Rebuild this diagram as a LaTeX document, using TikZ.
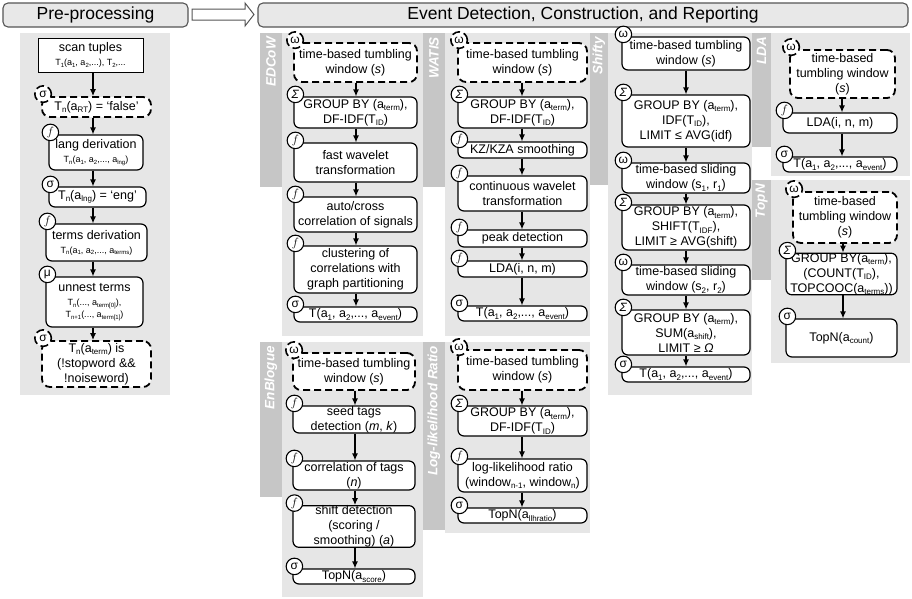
\documentclass[tikz,border=0pt]{standalone}
\usepackage{fontspec}
\setmainfont{Liberation Sans}
\usetikzlibrary{arrows.meta,calc}
\definecolor{panelgray}{HTML}{E6E6E6}
\definecolor{stripgray}{HTML}{C6C6C6}
\definecolor{hdrgray}{HTML}{E8E8E8}
\definecolor{hdrline}{HTML}{555555}
\newcommand\fsN{\fontsize{12.5}{15}\selectfont}
\newcommand\fsS{\fontsize{9}{10.5}\selectfont}
\newcommand\sub[1]{\raisebox{-0.35ex}{\fontsize{8}{8}\selectfont #1}}
\newcommand\ssub[1]{\raisebox{-0.3ex}{\fontsize{6}{6}\selectfont #1}}
\newcommand\mybox[7][box]{\node[#1, minimum width={#5-#3}, minimum height={#6-#4}] (#2) at ({(#3+#5)/2},{(#4+#6)/2}) {#7};}
\newcommand\opc[4][op]{\node[#1] (#2) at ($(#3.north west)+(2,-2)$) {#4};}
\newcommand\arr[3]{\draw[arrline] (#1.south -| #3) -- (#2.north -| #3);}
\tikzset{
  box/.style={draw=black, line width=1.2pt, rounded corners=6pt, fill=white, align=center, inner sep=0pt, font=\fsN},
  sqbox/.style={box, rounded corners=0pt, line width=1pt},
  dbox/.style={box, line width=1.8pt, dash pattern=on 7pt off 4pt, rounded corners=8pt},
  op/.style={circle, draw=black, fill=white, line width=1.1pt, minimum size=16.5pt, inner sep=0pt, font=\fontsize{12}{12}\selectfont},
  dop/.style={op, line width=1.6pt, dash pattern=on 8pt off 4pt},
  arrline/.style={-{Latex[length=7pt,width=6pt]}, line width=1.2pt},
  hdr/.style={draw=hdrline, fill=hdrgray, line width=1.1pt, rounded corners=5pt, inner sep=0pt, font=\fontsize{17.5}{20}\selectfont},
  slabel/.style={rotate=90, anchor=east, text=white, inner sep=0pt, font=\fontsize{13.5}{14}\selectfont\bfseries\itshape},
}
\begin{document}
\begin{tikzpicture}[x=1pt,y=-1pt]
\useasboundingbox (0,0) rectangle (912,598);
% headers
\node[hdr, minimum width=185, minimum height=24] (pre) at (95.5,15) {Pre-processing};
\node[hdr, minimum width=650, minimum height=24] (evt) at (583,15) {Event Detection, Construction, and Reporting};
\draw[draw=hdrline, fill=white, line width=1pt] (192,9) -- (245,9) -- (245,3) -- (254,14.5) -- (245,26) -- (245,20) -- (192,20) -- cycle;
% panels
\fill[panelgray] (20,33) rectangle (170,395);
\fill[stripgray] (260,33) rectangle (282,187);
\fill[panelgray] (282,33) rectangle (423,336);
\fill[stripgray] (423,33) rectangle (445,187);
\fill[panelgray] (445,33) rectangle (590,336);
\fill[stripgray] (590,33) rectangle (608,185);
\fill[panelgray] (608,33) rectangle (752,395);
\fill[stripgray] (752,33) rectangle (771,147);
\fill[panelgray] (771,33) rectangle (910,176);
\fill[stripgray] (752,180) rectangle (771,280);
\fill[panelgray] (771,180) rectangle (910,363);
\fill[stripgray] (260,342) rectangle (282,497);
\fill[panelgray] (282,342) rectangle (423,597);
\fill[stripgray] (423,342) rectangle (445,530);
\fill[panelgray] (445,342) rectangle (590,533);
% strip labels
\node[slabel] (lE) at (271,37) {EDCoW};
\node[slabel] (lW) at (434,37) {WATIS};
\node[slabel] (lS) at (599,37) {Shifty};
\node[slabel] (lL) at (761.5,37) {LDA};
\node[slabel] (lT) at (761.5,184) {TopN};
\node[slabel] (lB) at (271,346) {EnBlogue};
\node[slabel] (lG) at (434,346) {Log-likelihood Ratio};
% column x coordinates
\coordinate (cP) at (93,0);
\coordinate (cE) at (356,0);
\coordinate (cW) at (522,0);
\coordinate (cS) at (686,0);
\coordinate (cL) at (842,0);
\coordinate (cT) at (843,0);
\coordinate (cB) at (355,0);
\coordinate (cG) at (522,0);
% ---------- pre-processing
\mybox[sqbox]{p1}{38}{38}{143}{72}{scan tuples\\[-1pt]{\fsS T\ssub{1}(a\ssub{1}, a\ssub{2},...), T\ssub{2},...}}
\mybox[dbox]{p2}{42}{97}{151}{117}{T\sub{n}(a\sub{RT}) = ‘false’}
\mybox{p3}{49}{135}{143}{170}{lang derivation\\[-1pt]{\fsS T\ssub{n}(a\ssub{1}, a\ssub{2},..., a\ssub{lng})}}
\mybox{p4}{49}{187}{146}{207}{T\sub{n}(a\sub{lng}) = ‘eng’}
\mybox{p5}{46}{224}{147}{261}{terms derivation\\[-1pt]{\fsS T\ssub{n}(a\ssub{1}, a\ssub{2},..., a\ssub{terms})}}
\mybox{p6}{46}{277}{143}{327}{unnest terms\\[-1pt]{\fsS T\ssub{n}(..., a\ssub{term[0]}),}\\[-3pt]{\fsS T\ssub{n+1}(..., a\ssub{term[1]})}}
\mybox[dbox]{p7}{42}{341}{151}{387}{T\sub{n}(a\sub{term}) is\\(!stopword \&\&\\!noiseword)}
\arr{p1}{p2}{cP}\arr{p2}{p3}{cP}\arr{p3}{p4}{cP}\arr{p4}{p5}{cP}\arr{p5}{p6}{cP}\arr{p6}{p7}{cP}
\opc[dop]{op2}{p2}{σ}\opc{op3}{p3}{$f$}\opc{op4}{p4}{σ}\opc{op5}{p5}{$f$}\opc{op6}{p6}{μ}\opc[dop]{op7}{p7}{σ}
% ---------- EDCoW
\mybox[dbox]{e1}{294}{43}{417}{82}{time-based tumbling\\window (\textit{s})}
\mybox{e2}{294}{97}{417}{128}{GROUP BY (a\sub{term}),\\DF-IDF(T\sub{ID})}
\mybox{e3}{294}{143}{417}{182}{fast wavelet\\transformation}
\mybox{e4}{294}{197}{417}{232}{auto/cross\\correlation of signals}
\mybox{e5}{294}{246}{417}{293}{clustering of\\correlations with\\graph partitioning}
\mybox{e6}{294}{307}{417}{322}{T(a\sub{1}, a\sub{2},..., a\sub{event})}
\arr{e1}{e2}{cE}\arr{e2}{e3}{cE}\arr{e3}{e4}{cE}\arr{e4}{e5}{cE}\arr{e5}{e6}{cE}
\opc[dop]{oe1}{e1}{ω}\opc{oe2}{e2}{\textit{Σ}}\opc{oe3}{e3}{$f$}\opc{oe4}{e4}{$f$}\opc{oe5}{e5}{$f$}\opc{oe6}{e6}{σ}
% ---------- WATIS
\mybox[dbox]{w1}{458}{43}{587}{82}{time-based tumbling\\window (\textit{s})}
\mybox{w2}{458}{97}{587}{128}{GROUP BY (a\sub{term}),\\DF-IDF(T\sub{ID})}
\mybox{w3}{458}{142}{587}{158}{KZ/KZA smoothing}
\mybox{w4}{458}{176}{587}{211}{continuous wavelet\\transformation}
\mybox{w5}{458}{230}{587}{247}{peak detection}
\mybox{w6}{458}{261}{587}{277}{LDA(i, n, m)}
\mybox{w7}{458}{306}{587}{321}{T(a\sub{1}, a\sub{2},..., a\sub{event})}
\arr{w1}{w2}{cW}\arr{w2}{w3}{cW}\arr{w3}{w4}{cW}\arr{w4}{w5}{cW}\arr{w5}{w6}{cW}\arr{w6}{w7}{cW}
\opc[dop]{ow1}{w1}{ω}\opc{ow2}{w2}{\textit{Σ}}\opc{ow3}{w3}{$f$}\opc{ow4}{w4}{$f$}\opc{ow5}{w5}{$f$}\opc{ow6}{w6}{$f$}\opc{ow7}{w7}{σ}
% ---------- Shifty
\mybox{s1}{622}{37}{750}{70}{time-based tumbling\\window (\textit{s})}
\mybox{s2}{622}{95}{750}{147}{GROUP BY (a\sub{term}),\\IDF(T\sub{ID}),\\LIMIT ≤ AVG(idf)}
\mybox{s3}{622}{163}{750}{193}{time-based sliding\\window (s\sub{1}, r\sub{1})}
\mybox{s4}{622}{205}{750}{250}{GROUP BY (a\sub{term}),\\SHIFT(T\sub{IDF}),\\LIMIT ≥ AVG(shift)}
\mybox{s5}{622}{265}{750}{295}{time-based sliding\\window (s\sub{2}, r\sub{2})}
\mybox{s6}{622}{310}{750}{355}{GROUP BY (a\sub{term}),\\SUM(a\sub{shift}),\\LIMIT ≥ \textit{Ω}}
\mybox{s7}{622}{367}{750}{382}{T(a\sub{1}, a\sub{2},..., a\sub{event})}
\arr{s1}{s2}{cS}\arr{s2}{s3}{cS}\arr{s3}{s4}{cS}\arr{s4}{s5}{cS}\arr{s5}{s6}{cS}\arr{s6}{s7}{cS}
\opc{os1}{s1}{ω}\opc{os2}{s2}{\textit{Σ}}\opc{os3}{s3}{ω}\opc{os4}{s4}{\textit{Σ}}\opc{os5}{s5}{ω}\opc{os6}{s6}{\textit{Σ}}\opc{os7}{s7}{σ}
% ---------- LDA
\mybox[dbox]{l1}{790}{50}{895}{98}{time-based\\tumbling window\\(\textit{s})}
\mybox{l2}{783}{113}{897}{133}{LDA(i, n, m)}
\mybox{l3}{783}{157}{897}{172}{T(a\sub{1}, a\sub{2},..., a\sub{event})}
\arr{l1}{l2}{cL}\arr{l2}{l3}{cL}
\opc[dop]{ol1}{l1}{ω}\opc{ol2}{l2}{$f$}\opc{ol3}{l3}{σ}
% ---------- TopN
\mybox[dbox]{t1}{793}{192}{897}{243}{time-based\\tumbling window\\(\textit{s})}
\mybox{t2}{786}{256}{897}{292}{GROUP BY(a\sub{term}),\\(COUNT(T\sub{ID}),\\TOPCOOC(a\sub{terms}))}
\mybox{t3}{786}{319}{897}{357}{TopN(a\sub{count})}
\arr{t1}{t2}{cT}\arr{t2}{t3}{cT}
\opc[dop]{ot1}{t1}{ω}\opc{ot2}{t2}{\textit{Σ}}\opc{ot3}{t3}{σ}
% ---------- EnBlogue
\mybox[dbox]{b1}{293}{353}{415}{390}{time-based tumbling\\window (\textit{s})}
\mybox{b2}{293}{406}{415}{433}{seed tags\\detection (\textit{m}, \textit{k})}
\mybox{b3}{293}{461}{415}{490}{correlation of tags\\(\textit{n})}
\mybox{b4}{293}{506}{415}{547}{shift detection\\(scoring /\\smoothing) (\textit{a})}
\mybox{b5}{293}{569}{415}{584}{TopN(a\sub{score})}
\arr{b1}{b2}{cB}\arr{b2}{b3}{cB}\arr{b3}{b4}{cB}\arr{b4}{b5}{cB}
\opc[dop]{ob1}{b1}{ω}\opc{ob2}{b2}{$f$}\opc{ob3}{b3}{$f$}\opc{ob4}{b4}{$f$}\opc{ob5}{b5}{σ}
% ---------- Log-likelihood
\mybox[dbox]{g1}{458}{350}{587}{390}{time-based tumbling\\window (\textit{s})}
\mybox{g2}{458}{406}{587}{436}{GROUP BY (a\sub{term}),\\DF-IDF(T\sub{ID})}
\mybox{g3}{458}{459}{587}{492}{log-likelihood ratio\\(window\sub{n-1}, window\sub{n})}
\mybox{g4}{458}{508}{587}{523}{TopN(a\sub{llhratio})}
\arr{g1}{g2}{cG}\arr{g2}{g3}{cG}\arr{g3}{g4}{cG}
\opc[dop]{og1}{g1}{ω}\opc{og2}{g2}{\textit{Σ}}\opc{og3}{g3}{$f$}\opc{og4}{g4}{σ}
\end{tikzpicture}
\end{document}
